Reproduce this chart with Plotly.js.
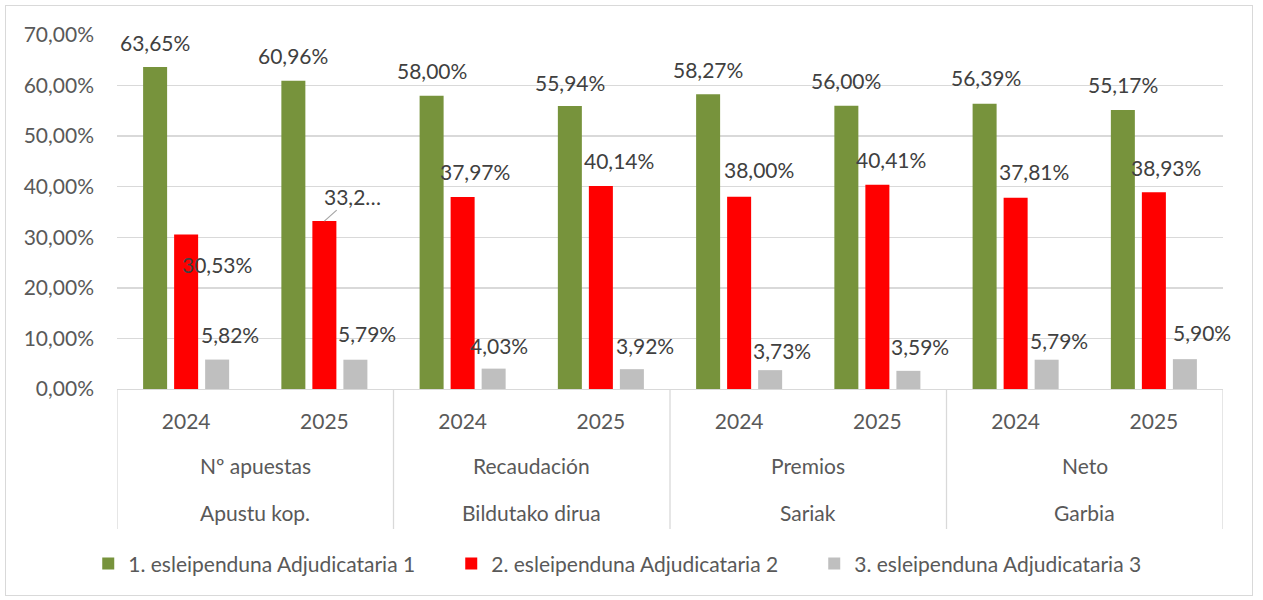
<!DOCTYPE html>
<html>
<head>
<meta charset="utf-8">
<script src="https://cdn.plot.ly/plotly-3.0.1.min.js"></script>
<style>
  html, body { margin: 0; padding: 0; background: #fff; }
  #wrap { position: relative; width: 1263px; height: 600px; }
  #chart { position: absolute; left: 0; top: 0; width: 1263px; height: 600px; }
  #frame { position: absolute; left: 5px; top: 5px; width: 1246px; height: 589px;
           border: 1px solid #d9d9d9; pointer-events: none; }
</style>
</head>
<body>
<div id="wrap"><div id="chart"></div><div id="frame"></div></div>
<script>
// ---- data ----
const categories   = ['Nº apuestas', 'Recaudación', 'Premios', 'Neto'];
const categoriesEu = ['Apustu kop.', 'Bildutako dirua', 'Sariak', 'Garbia'];
const years        = ['2024', '2025'];
const seriesNames  = ['1. esleipenduna Adjudicataria 1', '2. esleipenduna Adjudicataria 2', '3. esleipenduna Adjudicataria 3'];
const adjudicataria1 = [63.65, 60.96, 58.00, 55.94, 58.27, 56.00, 56.39, 55.17];
const adjudicataria2 = [30.53, 33.20, 37.97, 40.14, 38.00, 40.41, 37.81, 38.93];
const adjudicataria3 = [5.82, 5.79, 4.03, 3.92, 3.73, 3.59, 5.79, 5.90];

// ---- styling ----
const colors = ['#77933C', '#FF0000', '#BFBFBF'];
const FONT = 'Lato', FS = 21;
const BARGAP = 0.327, BARGROUPGAP = 0.226;
// label offsets in px (relative to bar top centre) — Excel manual placement
const labelOffsets = [
  [[0,-25],[0,-25],[0,-25],[0,-24],[0,-25],[0,-25],[1,-26],[0,-26]],
  [[31,30],[28,-25],[12,-25],[18,-26],[20,-27],[14,-25],[18,-26],[12,-25]],
  [[13,-25],[12,-26],[5,-23],[13,-24],[12,-20],[12,-24],[12,-19],[17,-27]]
];
const truncated = [[], [1], []]; // labels shown truncated with a leader line

const xKeys = [], xYears = [];
categories.forEach(c => years.forEach(y => { xKeys.push(c + ' ' + y); xYears.push(y); }));
const series = [adjudicataria1, adjudicataria2, adjudicataria3];
const fmt = v => v.toFixed(2).replace('.', ',') + '%';

const traces = series.map((vals, k) => ({
  type: 'bar', x: xKeys, y: vals, name: seriesNames[k],
  marker: { color: colors[k], line: { width: 0 } },
  hoverinfo: 'skip'
}));

const slot = (1 - BARGAP) / 3;
const annotations = [];
series.forEach((vals, k) => {
  vals.forEach((v, i) => {
    const [dx, dy] = labelOffsets[k][i];
    const isTrunc = truncated[k].includes(i);
    let txt = fmt(v);
    if (isTrunc) txt = txt.slice(0, 4) + '…';
    const a = {
      xref: 'x', yref: 'y', x: i + (k - 1) * slot, y: v,
      text: txt, font: { family: FONT, size: FS, color: '#404040' },
      xanchor: 'center', yanchor: 'middle'
    };
    if (isTrunc) {
      Object.assign(a, { showarrow: true, ax: dx, ay: dy, arrowhead: 0, arrowwidth: 1.2,
                         arrowcolor: '#a6a6a6', standoff: 0 });
    } else {
      Object.assign(a, { showarrow: false, xshift: dx, yshift: -dy });
    }
    annotations.push(a);
  });
});
// group labels (two lines)
categories.forEach((c, g) => {
  annotations.push({ xref: 'x', yref: 'paper', x: g * years.length + (years.length - 1) / 2, y: -0.2175,
    text: c, showarrow: false, xanchor: 'center', yanchor: 'middle',
    font: { family: FONT, size: FS, color: '#595959' } });
  annotations.push({ xref: 'x', yref: 'paper', x: g * years.length + (years.length - 1) / 2, y: -0.350,
    text: categoriesEu[g], showarrow: false, xanchor: 'center', yanchor: 'middle',
    font: { family: FONT, size: FS, color: '#595959' } });
});
// dividers between groups
const shapes = [];
for (let g = 0; g <= categories.length; g++) {
  shapes.push({ type: 'line', xref: 'x', yref: 'paper', x0: g * years.length - 0.5, x1: g * years.length - 0.5,
    y0: 0, y1: -0.3955, line: { color: '#d9d9d9', width: 1.3 } });
}

const layout = {
  width: 1263, height: 600,
  margin: { l: 117, r: 40, t: 35, b: 211, pad: 0 },
  paper_bgcolor: '#ffffff', plot_bgcolor: '#ffffff',
  separators: ',.',
  font: { family: FONT, size: FS, color: '#595959' },
  barmode: 'group', bargap: BARGAP, bargroupgap: BARGROUPGAP,
  xaxis: {
    type: 'category', tickvals: xKeys, ticktext: xYears, range: [-0.5, xKeys.length - 0.5],
    showgrid: false, showline: true, linecolor: '#d9d9d9', linewidth: 1.3, ticks: '',
    ticklabelstandoff: 13, tickfont: { size: FS, color: '#595959' }, fixedrange: true
  },
  yaxis: {
    range: [0, 70], dtick: 10, tick0: 0, tickformat: '.2f', ticksuffix: '%',
    showgrid: true, gridcolor: '#d9d9d9', gridwidth: 1.3, zeroline: false, showline: false, ticks: '',
    ticklabelstandoff: 22, tickfont: { size: FS, color: '#595959' }, fixedrange: true
  },
  showlegend: true,
  legend: {
    orientation: 'h', x: -0.026, xanchor: 'left', y: -0.494, yanchor: 'middle',
    font: { family: FONT, size: FS, color: '#595959' },
    entrywidth: 318, entrywidthmode: 'pixels', traceorder: 'normal', itemclick: false
  },
  annotations: annotations,
  shapes: shapes
};

Plotly.newPlot('chart', traces, layout, { displayModeBar: false, staticPlot: true });
</script>
</body>
</html>
